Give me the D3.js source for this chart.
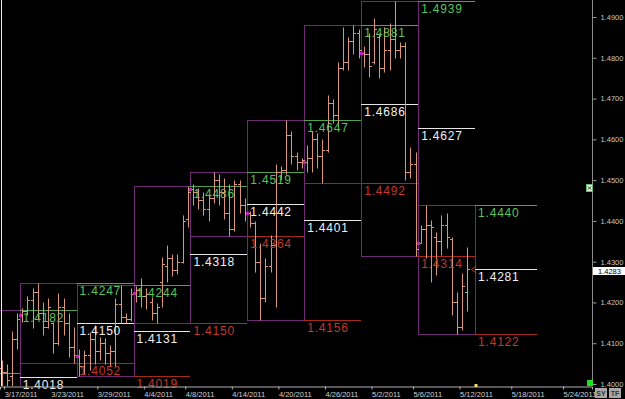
<!DOCTYPE html>
<html>
<head>
<meta charset="utf-8">
<script src="https://cdn.jsdelivr.net/npm/d3@7"></script>
<style>
  body { margin: 0; background: #000; }
  svg { display: block; }
</style>
</head>
<body>
<div id="chart"></div>
<script>
// weekly ranges (index 0 = week of 3/7, 1 = 3/14 ... 9 = 5/9)
const weekHigh = [1.4027, 1.4182, 1.4247, 1.4244, 1.4486, 1.4519, 1.4647, 1.4881, 1.4939, 1.4440]
const weekLow  = [1.3860, 1.3854, 1.4052, 1.4019, 1.4150, 1.4364, 1.4156, 1.4492, 1.4314, 1.4122]
const weekMid  = [1.3944, 1.4018, 1.4150, 1.4131, 1.4318, 1.4442, 1.4401, 1.4686, 1.4627, 1.4281]
const slotsPerWeek = 11

// 12h bars [open, high, low, close], first visible bar sits in slot 7
const firstSlot = 7
const bars = [
  [1.4040, 1.4060, 1.3980, 1.4030], [1.4030, 1.4050, 1.3990, 1.4010], [1.4020, 1.4130, 1.3990, 1.4110],
  [1.4110, 1.4175, 1.4085, 1.4160],
  // week of 3/21
  [1.4169, 1.4186, 1.4152, 1.4180], [1.4180, 1.4215, 1.4170, 1.4205], [1.4205, 1.4235, 1.4137, 1.4225],
  [1.4225, 1.4247, 1.4160, 1.4175], [1.4175, 1.4200, 1.4120, 1.4140], [1.4140, 1.4211, 1.4137, 1.4190],
  [1.4150, 1.4152, 1.4076, 1.4100], [1.4100, 1.4223, 1.4096, 1.4190], [1.4190, 1.4211, 1.4120, 1.4150],
  [1.4150, 1.4174, 1.4066, 1.4090], [1.4090, 1.4140, 1.4052, 1.4070],
  // week of 3/28
  [1.4069, 1.4085, 1.4019, 1.4045], [1.4045, 1.4083, 1.4025, 1.4070], [1.4070, 1.4127, 1.4035, 1.4110],
  [1.4110, 1.4145, 1.4050, 1.4080], [1.4080, 1.4115, 1.4060, 1.4100], [1.4100, 1.4113, 1.4050, 1.4075],
  [1.4075, 1.4095, 1.4045, 1.4080], [1.4080, 1.4211, 1.4045, 1.4195], [1.4195, 1.4244, 1.4150, 1.4165],
  [1.4165, 1.4175, 1.4150, 1.4160], [1.4160, 1.4235, 1.4155, 1.4220],
  // week of 4/4
  [1.4223, 1.4240, 1.4200, 1.4230], [1.4230, 1.4260, 1.4189, 1.4215], [1.4215, 1.4235, 1.4185, 1.4220],
  [1.4200, 1.4213, 1.4157, 1.4175], [1.4175, 1.4199, 1.4150, 1.4190], [1.4250, 1.4311, 1.4190, 1.4295],
  [1.4290, 1.4341, 1.4250, 1.4310], [1.4310, 1.4320, 1.4265, 1.4280], [1.4280, 1.4320, 1.4270, 1.4300],
  [1.4300, 1.4414, 1.4297, 1.4400], [1.4405, 1.4486, 1.4385, 1.4470],
  // week of 4/11
  [1.4478, 1.4490, 1.4440, 1.4470], [1.4470, 1.4480, 1.4430, 1.4450], [1.4450, 1.4470, 1.4415, 1.4430],
  [1.4430, 1.4465, 1.4400, 1.4455], [1.4455, 1.4519, 1.4445, 1.4500], [1.4500, 1.4515, 1.4440, 1.4470],
  [1.4470, 1.4505, 1.4405, 1.4420], [1.4420, 1.4490, 1.4364, 1.4380], [1.4380, 1.4500, 1.4375, 1.4490],
  [1.4490, 1.4500, 1.4420, 1.4440], [1.4440, 1.4455, 1.4400, 1.4420],
  // week of 4/18
  [1.4419, 1.4425, 1.4385, 1.4395], [1.4395, 1.4400, 1.4275, 1.4300], [1.4300, 1.4346, 1.4156, 1.4210],
  [1.4210, 1.4310, 1.4200, 1.4290], [1.4290, 1.4365, 1.4275, 1.4340], [1.4340, 1.4540, 1.4190, 1.4520],
  [1.4520, 1.4535, 1.4500, 1.4525], [1.4525, 1.4647, 1.4515, 1.4610], [1.4610, 1.4620, 1.4540, 1.4560],
  [1.4560, 1.4570, 1.4525, 1.4545], [1.4545, 1.4555, 1.4530, 1.4550],
  // week of 4/25
  [1.4545, 1.4585, 1.4520, 1.4555], [1.4555, 1.4620, 1.4520, 1.4600], [1.4600, 1.4615, 1.4530, 1.4560],
  [1.4560, 1.4600, 1.4492, 1.4575], [1.4575, 1.4708, 1.4570, 1.4690], [1.4690, 1.4700, 1.4640, 1.4660],
  [1.4660, 1.4790, 1.4630, 1.4775], [1.4775, 1.4875, 1.4770, 1.4790], [1.4790, 1.4850, 1.4770, 1.4840],
  [1.4840, 1.4881, 1.4810, 1.4860], [1.4860, 1.4870, 1.4800, 1.4820],
  // week of 5/2
  [1.4811, 1.4830, 1.4777, 1.4810], [1.4810, 1.4860, 1.4752, 1.4780], [1.4790, 1.4897, 1.4785, 1.4870],
  [1.4850, 1.4860, 1.4750, 1.4775], [1.4775, 1.4875, 1.4765, 1.4820], [1.4820, 1.4885, 1.4770, 1.4845],
  [1.4845, 1.4939, 1.4800, 1.4820], [1.4820, 1.4838, 1.4800, 1.4830], [1.4830, 1.4838, 1.4500, 1.4520],
  [1.4520, 1.4581, 1.4505, 1.4540], [1.4540, 1.4569, 1.4314, 1.4330],
  // week of 5/9 (last one is the running bar)
  [1.4346, 1.4390, 1.4345, 1.4380], [1.4380, 1.4440, 1.4310, 1.4390], [1.4390, 1.4402, 1.4250, 1.4385],
  [1.4360, 1.4373, 1.4267, 1.4350], [1.4350, 1.4414, 1.4316, 1.4390], [1.4390, 1.4419, 1.4333, 1.4360],
  [1.4355, 1.4360, 1.4169, 1.4200], [1.4200, 1.4225, 1.4122, 1.4140], [1.4140, 1.4272, 1.4132, 1.4240],
  [1.4225, 1.4335, 1.4180, 1.4283]
]
const lastPrice = 1.4283

// date axis
const tickDates = ["3/17/2011", "3/23/2011", "3/29/2011", "4/4/2011", "4/8/2011", "4/14/2011", "4/20/2011",
  "4/26/2011", "5/2/2011", "5/6/2011", "5/12/2011", "5/18/2011", "5/24/2011"]
const tickSlots = [8, 17, 26, 35, 43, 52, 61, 70, 79, 87, 96, 106, 116]
const priceTicks = [1.40, 1.41, 1.42, 1.43, 1.44, 1.45, 1.46, 1.47, 1.48, 1.49]

// colours
const colBox = "#6e2a72"
const colGreen = "#4fa24f"
const colWhite = "#e6e6e6"
const colRed = "#a52a1c"
const colBar = "#d9957a"

const W = 625, H = 399
const plotW = 592, plotH = 386

const svg = d3.select("#chart").append("svg")
    .attr("width", W)
    .attr("height", H)
    .style("background", "#000")

svg.append("clipPath").attr("id", "plotClip")
    .append("rect").attr("x", 0).attr("y", 0).attr("width", plotW).attr("height", plotH)

// scales: x in bar slots, y in price
const x = d3.scaleLinear().domain([7.2, 121.6]).range([0, plotW])
const y = d3.scaleLinear().domain([1.40, 1.49]).range([384, 17])
const px = v => Math.round(v) + 0.5

const plot = svg.append("g").attr("clip-path", "url(#plotClip)")

// weekly range boxes
const weeks = d3.range(weekHigh.length)
plot.selectAll(".wbox")
    .data(weeks)
    .enter()
    .append("rect")
    .attr("class", "wbox")
    .attr("x", k => px(x((k - 1) * slotsPerWeek)))
    .attr("y", k => px(y(weekHigh[k])))
    .attr("width", k => Math.round(x(k * slotsPerWeek)) - Math.round(x((k - 1) * slotsPerWeek)))
    .attr("height", k => Math.round(y(weekLow[k])) - Math.round(y(weekHigh[k])))
    .attr("fill", "none")
    .attr("stroke", colBox)
    .attr("stroke-width", 1)

// previous week high / mid / low projected over the following week
const levels = []
weeks.forEach(function (k) {
    const s0 = k * slotsPerWeek
    const s1 = s0 + slotsPerWeek + (k === weeks.length - 1 ? 1 : 0)
    levels.push({ s0: s0, s1: s1, v: weekHigh[k], line: colGreen, txt: "#5cc05c" })
    levels.push({ s0: s0, s1: s1, v: weekMid[k], line: colWhite, txt: "#f0f0f0" })
    levels.push({ s0: s0, s1: s1, v: weekLow[k], line: colRed, txt: "#c0392b" })
})

plot.selectAll(".lvl")
    .data(levels)
    .enter()
    .append("line")
    .attr("class", "lvl")
    .attr("x1", d => Math.round(x(d.s0)))
    .attr("x2", d => Math.round(x(d.s1)))
    .attr("y1", d => px(y(d.v)))
    .attr("y2", d => px(y(d.v)))
    .attr("stroke", d => d.line)
    .attr("stroke-width", 1)

// labels only where the week starts on screen
svg.selectAll(".lvlText")
    .data(levels.filter(d => x(d.s0) >= 0 && y(d.v) < plotH))
    .enter()
    .append("text")
    .attr("class", "lvlText")
    .attr("x", d => x(d.s0) + 3)
    .attr("y", d => Math.round(y(d.v)) + 12)
    .attr("fill", d => d.txt)
    .style("font-family", "Liberation Sans, Arial, sans-serif")
    .style("font-size", "12px")
    .style("letter-spacing", "0.8px")
    .text(d => d.v.toFixed(4))

// OHLC bars
const barG = plot.append("g")
bars.forEach(function (b, i) {
    const cx = px(x(firstSlot + i + 0.5))
    const col = i === bars.length - 1 ? "#5cc8cc" : colBar
    const g = barG.append("g").attr("stroke", col).attr("stroke-width", 1)
    g.append("line").attr("x1", cx).attr("x2", cx).attr("y1", px(y(b[1]))).attr("y2", px(y(b[2])))
    g.append("line").attr("x1", cx - 2.5).attr("x2", cx).attr("y1", px(y(b[0]))).attr("y2", px(y(b[0])))
    g.append("line").attr("x1", cx).attr("x2", cx + 2.5).attr("y1", px(y(b[3]))).attr("y2", px(y(b[3])))
})

// week open markers
const openWeeks = d3.range(1, weeks.length - 1)
plot.selectAll(".wopen")
    .data(openWeeks)
    .enter()
    .append("rect")
    .attr("class", "wopen")
    .attr("x", k => Math.round(x(k * slotsPerWeek)) - 1)
    .attr("y", k => Math.round(y(bars[k * slotsPerWeek - firstSlot][0])) - 1)
    .attr("width", 3)
    .attr("height", 3)
    .attr("fill", "#c21fc2")

// left white marker line
svg.append("line")
    .attr("x1", 1.5).attr("x2", 1.5)
    .attr("y1", 0).attr("y2", plotH)
    .attr("stroke", "#f0f0f0")

// current price arrow
const yLast = Math.round(y(lastPrice)) + 0.5
const xArrow = x(firstSlot + bars.length + 0.5)
svg.append("path")
    .attr("d", "M" + (xArrow + 4) + "," + (yLast - 3.5) + " L" + (xArrow - 1) + "," + yLast +
        " L" + (xArrow + 4) + "," + (yLast + 3.5))
    .attr("fill", "none")
    .attr("stroke", "#c0392b")

// price axis (right)
const yAxis = d3.axisRight(y)
    .tickValues(priceTicks)
    .tickFormat(d3.format(".4f"))
    .tickSize(4)
    .tickPadding(4)
const yAx = svg.append("g")
    .attr("transform", "translate(" + (plotW + 0.5) + ",0)")
    .call(yAxis)
yAx.select(".domain").remove()
yAx.selectAll("line").attr("stroke", "#9a9a9a")
yAx.selectAll("text")
    .attr("fill", "#c8c8c8")
    .style("font-family", "Liberation Sans, Arial, sans-serif")
    .style("font-size", "7.5px")
svg.append("line")
    .attr("x1", plotW + 0.5).attr("x2", plotW + 0.5)
    .attr("y1", 0).attr("y2", plotH)
    .attr("stroke", "#8a8a8a")

// date axis (bottom)
const xAxis = d3.axisBottom(x)
    .tickValues(tickSlots)
    .tickFormat((d, i) => tickDates[i])
    .tickSize(3)
    .tickPadding(2)
const xAx = svg.append("g")
    .attr("transform", "translate(0," + (plotH + 0.5) + ")")
    .call(xAxis)
xAx.select(".domain").attr("stroke", "#b0b0b0")
xAx.selectAll("line").attr("stroke", "#b0b0b0")
xAx.selectAll("text")
    .attr("fill", "#d0d0d0")
    .attr("text-anchor", "start")
    .attr("x", 0)
    .style("font-family", "Liberation Sans, Arial, sans-serif")
    .style("font-size", "7.5px")

// last price tag
const yTag = Math.round(y(lastPrice))
svg.append("rect")
    .attr("x", plotW + 1).attr("y", yTag - 2)
    .attr("width", W - plotW - 1).attr("height", 8)
    .attr("fill", "#ffffff")
svg.append("text")
    .attr("x", plotW + 6).attr("y", yTag + 4.5)
    .attr("fill", "#000")
    .style("font-family", "Liberation Sans, Arial, sans-serif")
    .style("font-size", "7.5px")
    .text(lastPrice.toFixed(4))

// small widgets
svg.append("rect")
    .attr("x", 586.5).attr("y", 184.5).attr("width", 6).attr("height", 7)
    .attr("fill", "#d8efd8").attr("stroke", "#6cba6c")
svg.append("path")
    .attr("d", "M588,186.5 L591,189.5 M591,186.5 L588,189.5")
    .attr("stroke", "#333")
svg.append("rect")
    .attr("x", 587).attr("y", 380).attr("width", 6).attr("height", 6)
    .attr("fill", "#1fe01f")
svg.append("rect")
    .attr("x", px(x(96)) + 14).attr("y", 384).attr("width", 3).attr("height", 3)
    .attr("fill", "#f0e070")

const buttons = ["SY", "TF"]
svg.selectAll(".btn")
    .data(buttons)
    .enter()
    .append("rect")
    .attr("class", "btn")
    .attr("x", (d, i) => 595 + i * 14)
    .attr("y", 388)
    .attr("width", 12)
    .attr("height", 10)
    .attr("fill", "#a8a8a8")
svg.selectAll(".btnText")
    .data(buttons)
    .enter()
    .append("text")
    .attr("class", "btnText")
    .attr("x", (d, i) => 601 + i * 14)
    .attr("y", 396)
    .attr("text-anchor", "middle")
    .attr("fill", "#333")
    .style("font-family", "Liberation Sans, Arial, sans-serif")
    .style("font-size", "7px")
    .style("font-weight", "bold")
    .text(d => d)
</script>
